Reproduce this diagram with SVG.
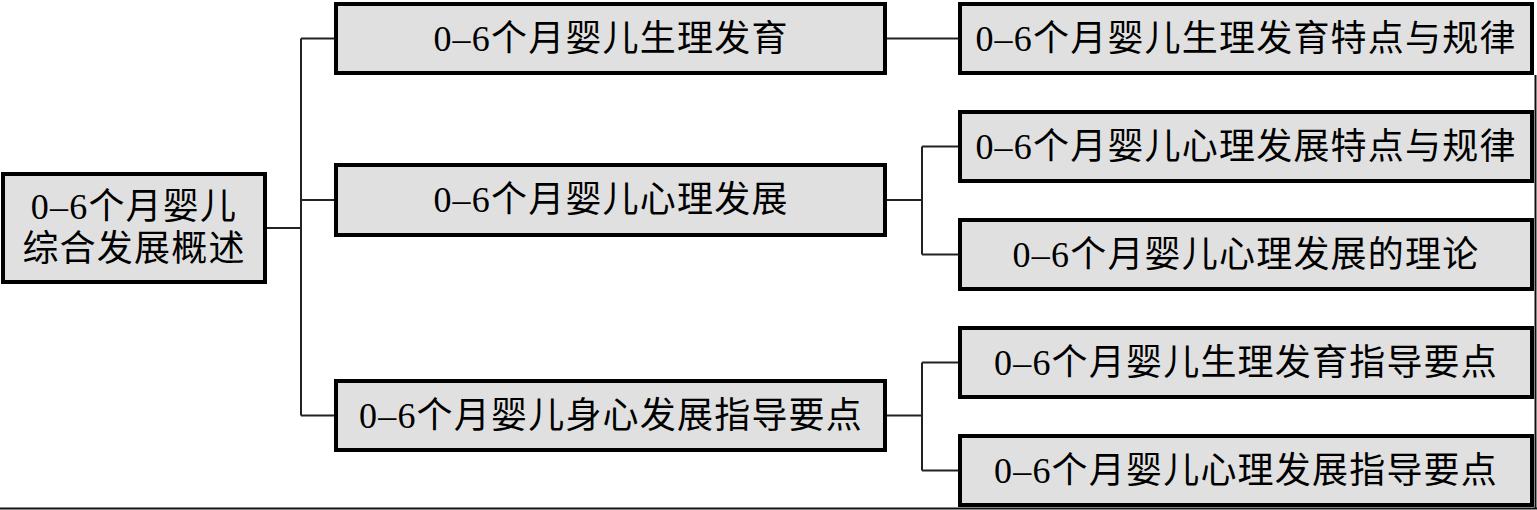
<svg xmlns="http://www.w3.org/2000/svg" width="1537" height="510" viewBox="0 0 1537 510">
<style>
.box{fill:#e0e0e0;stroke:#000;stroke-width:4}
.t{font-family:"Liberation Serif","Noto Sans CJK SC",serif;font-size:36px;letter-spacing:1.2px;fill:#000;text-anchor:middle;dominant-baseline:central}
.c{fill:none;stroke:#222;stroke-width:2}
.f{fill:none;stroke:#111;stroke-width:2}
</style>
<rect width="1537" height="510" fill="#fff"/>
<g id="frame">
<path class="f" d="M1535.5 75 V508.5 M0 508.5 H1537"/>
</g>
<g id="connectors">
<path class="c" d="M267 228 H301 M301 38.5 V415.5 M301 38.5 H334 M301 200 H334 M301 415.5 H334"/>
<path class="c" d="M887 38.5 H958"/>
<path class="c" d="M887 200 H922 M922 146.5 V254.5 M922 146.5 H958 M922 254.5 H958"/>
<path class="c" d="M887 415.5 H922 M922 362.5 V470.5 M922 362.5 H958 M922 470.5 H958"/>
</g>
<g id="root">
<rect class="box" x="3" y="174" width="262" height="108"/>
<text class="t" x="134" y="207">0–6个月婴儿</text>
<text class="t" x="134" y="249">综合发展概述</text>
</g>
<g id="n-physio">
<rect class="box" x="336" y="4" width="549" height="69"/>
<text class="t" x="611" y="38.5">0–6个月婴儿生理发育</text>
</g>
<g id="n-psych">
<rect class="box" x="336" y="165" width="549" height="70"/>
<text class="t" x="611" y="200">0–6个月婴儿心理发展</text>
</g>
<g id="n-guide">
<rect class="box" x="336" y="381" width="549" height="69"/>
<text class="t" x="611" y="415.5">0–6个月婴儿身心发展指导要点</text>
</g>
<g id="n-physio-rules">
<rect class="box" x="960" y="4" width="572" height="69"/>
<text class="t" x="1246" y="38.5">0–6个月婴儿生理发育特点与规律</text>
</g>
<g id="n-psych-rules">
<rect class="box" x="960" y="112" width="572" height="69"/>
<text class="t" x="1246" y="146.5">0–6个月婴儿心理发展特点与规律</text>
</g>
<g id="n-psych-theory">
<rect class="box" x="960" y="220" width="572" height="69"/>
<text class="t" x="1246" y="254.5">0–6个月婴儿心理发展的理论</text>
</g>
<g id="n-physio-guide">
<rect class="box" x="960" y="328" width="572" height="69"/>
<text class="t" x="1246" y="362.5">0–6个月婴儿生理发育指导要点</text>
</g>
<g id="n-psych-guide">
<rect class="box" x="960" y="436" width="572" height="69"/>
<text class="t" x="1246" y="470.5">0–6个月婴儿心理发展指导要点</text>
</g>
</svg>
